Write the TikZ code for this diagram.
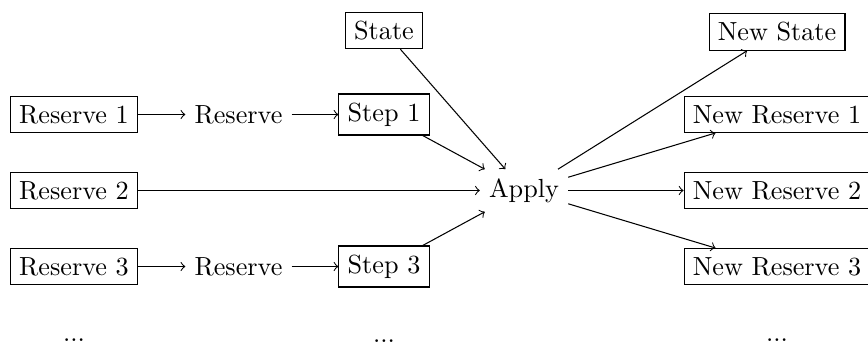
\documentclass[tikz,border=0pt]{standalone}
\begin{document}
\begin{tikzpicture}[x=0.382pt,y=-0.382pt,
  box/.style={draw},
  plain/.style={},
  arr/.style={->}]
\useasboundingbox (0,0) rectangle (868,345);
% column 1
\node[box] (r1) at (74,114.5) {Reserve 1};
\node[box] (r2) at (74,190.5) {Reserve 2};
\node[box] (r3) at (74,266.5) {Reserve 3};
\node[plain] (d1) at (74,340) {...};
% column 2
\node[plain] (m1) at (238.5,114.5) {Reserve};
\node[plain] (m3) at (238.5,266.5) {Reserve};
% column 3
\node[box] (st) at (384,30.5) {State};
\node[box] (s1) at (384,114.5) {Step 1};
\node[box] (s3) at (384,266.5) {Step 3};
\node[plain] (d2) at (384,341.5) {...};
% apply
\node[plain] (ap) at (524,190.5) {Apply};
% column 5
\node[box] (ns) at (777,32) {New State};
\node[box] (n1) at (777,114.5) {New Reserve 1};
\node[box] (n2) at (777,190.5) {New Reserve 2};
\node[box] (n3) at (777,266.5) {New Reserve 3};
\node[plain] (d3) at (777,340) {...};
% connectors
\draw[arr] (r1) -- (m1);
\draw[arr] (m1) -- (s1);
\draw[arr] (r3) -- (m3);
\draw[arr] (m3) -- (s3);
\draw[arr] (r2) -- (ap);
\draw[arr] (st) -- (ap);
\draw[arr] (s1) -- (ap);
\draw[arr] (s3) -- (ap);
\draw[arr] (ap) -- (ns);
\draw[arr] (ap) -- (n1);
\draw[arr] (ap) -- (n2);
\draw[arr] (ap) -- (n3);
\end{tikzpicture}
\end{document}
